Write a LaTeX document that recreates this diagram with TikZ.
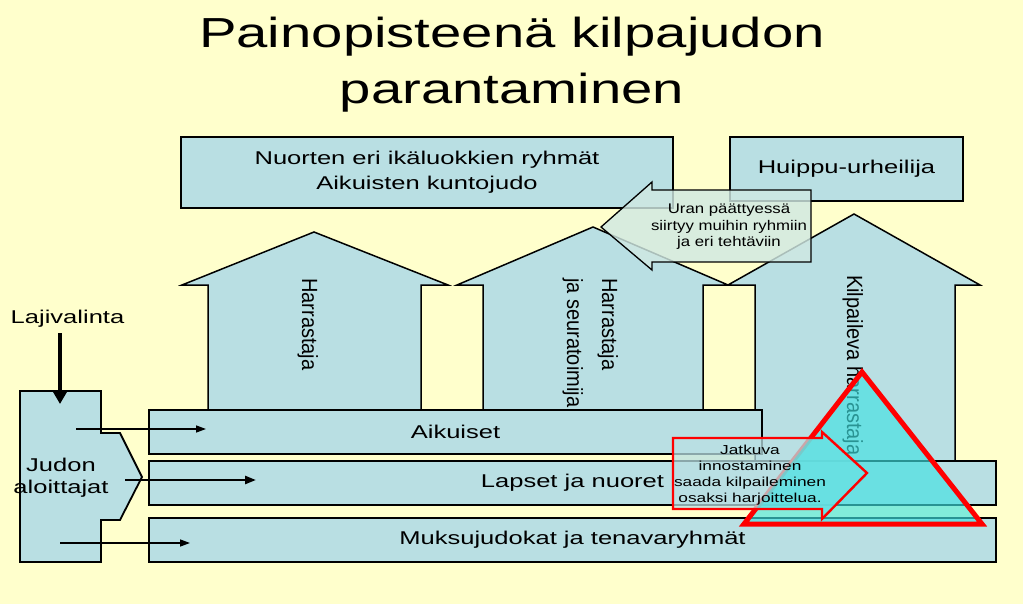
\documentclass[tikz,border=0pt]{standalone}
\usepackage{fontspec}
\setmainfont{Liberation Sans}
\usetikzlibrary{arrows.meta}
\definecolor{bgyellow}{RGB}{255,255,204}
\definecolor{barblue}{RGB}{185,223,227}
\definecolor{uranfill}{RGB}{208,232,226}
\definecolor{tricyan}{RGB}{64,226,226}
\definecolor{trired}{RGB}{255,0,0}
\tikzset{
  box/.style={draw=black, line width=1.5pt, fill=barblue, inner sep=0pt,
    font=\fontsize{18.5}{25}\selectfont\addfontfeature{FakeStretch=1.38}, align=center},
  plaintext/.style={inner sep=0pt, align=center,
    font=\fontsize{18.5}{22}\selectfont\addfontfeature{FakeStretch=1.38}},
  vtext/.style={font=\fontsize{22}{24}\selectfont\addfontfeature{FakeStretch=0.91}, rotate=-90, anchor=base west, inner sep=0pt},
  houseshape/.style={draw=black, line width=1.5pt, fill=barblue},
  thinarrow/.style={line width=1.3pt, -{Triangle[length=10pt,width=7pt]}},
  midarrow/.style={line width=2.4pt, -{Triangle[length=11pt,width=8pt]}},
  thickarrow/.style={line width=4.5pt, -{Triangle[length=12pt,width=13pt]}},
}
\begin{document}
\begin{tikzpicture}[x=1pt, y=-1pt, line join=miter]
\useasboundingbox (0,0) rectangle (1023,604);
\fill[bgyellow] (0,0) rectangle (1023,604);

% title
\node[inner sep=0pt, anchor=base, font=\fontsize{42}{60}\selectfont\addfontfeature{FakeStretch=1.34}] (title1) at (512,48) {Painopisteenä kilpajudon};
\node[inner sep=0pt, anchor=base, font=\fontsize{42}{60}\selectfont\addfontfeature{FakeStretch=1.34}] (title2) at (512,104) {parantaminen};

% top boxes
\node[box, minimum width=492pt, minimum height=71pt] (top) at (427,172.5) {Nuorten eri ikäluokkien ryhmät\\Aikuisten kuntojudo};
\node[box, minimum width=233pt, minimum height=64pt] (huippu) at (846.5,169) {Huippu-urheilija};

% houses
\draw[houseshape] (208,410) -- (208,285) -- (182,285) -- (314,232) -- (448,285) -- (421,285) -- (421,410) -- cycle;
\draw[houseshape] (483,410) -- (483,285) -- (457,285) -- (593,227) -- (728,285) -- (703,285) -- (703,410) -- cycle;
\draw[houseshape] (755,461) -- (755,285) -- (728,285) -- (854,214) -- (980,285) -- (955,285) -- (955,461) -- cycle;

\node[vtext] (h1) at (302,278) {Harrastaja};
\node[vtext] (h2a) at (602,278) {Harrastaja};
\node[vtext] (h2b) at (567,278) {ja seuratoimija};
\node[vtext] (h3) at (847,275) {Kilpaileva harrastaja};

% Uran arrow
\draw[black, line width=1.3pt, fill=uranfill, fill opacity=0.82] (811,190) -- (652,190) -- (652,182) -- (601,227) -- (652,270) -- (652,262) -- (811,262) -- cycle;
\node[inner sep=0pt, align=center, font=\fontsize{14}{16.5}\selectfont\addfontfeature{FakeStretch=1.2}] (uran) at (729,227) {Uran päättyessä\\siirtyy muihin ryhmiin\\ja eri tehtäviin};

% bars
\node[box, minimum width=613pt, minimum height=44pt] (aik) at (455.5,432) {Aikuiset};
\node[box, minimum width=847pt, minimum height=44pt] (lap) at (572.5,483) {Lapset ja nuoret};
\node[box, minimum width=847pt, minimum height=44pt] (muk) at (572.5,540) {Muksujudokat ja tenavaryhmät};

% Judon aloittajat
\draw[houseshape, line width=1.8pt] (20,391) -- (101,391) -- (101,433) -- (120,433) -- (142,477) -- (120,520) -- (101,520) -- (101,562) -- (20,562) -- cycle;
\node[plaintext] (judo) at (61,478) {Judon\\aloittajat};

% Lajivalinta
\node[plaintext] (laji) at (67.5,319) {Lajivalinta};
\coordinate (lajis) at (60,333);
\coordinate (lajie) at (60,404);
\draw[thickarrow] (lajis) -- (lajie);

% small arrows
\coordinate (a1s) at (76,429);  \coordinate (a1e) at (206,429);
\coordinate (a2s) at (125,480); \coordinate (a2e) at (256,480);
\coordinate (a3s) at (60,543);  \coordinate (a3e) at (190,543);
\draw[thinarrow] (a1s) -- (a1e);
\draw[midarrow] (a2s) -- (a2e);
\draw[thinarrow] (a3s) -- (a3e);

% triangle
\def\tripath{(862,372) -- (982,524) -- (744,524) -- cycle}
\def\jatpath{(673,438) -- (822,438) -- (822,432) -- (867,473) -- (822,519) -- (822,509) -- (673,509) -- cycle}
\fill[tricyan, opacity=0.65] \tripath;
\draw[trired, line width=5pt] \tripath;
\fill[barblue, opacity=0.75] \jatpath;
\begin{scope}
  \clip \tripath;
  \fill[tricyan, opacity=0.6] \jatpath;
\end{scope}
\draw[trired, line width=2.4pt] \jatpath;
\node[inner sep=0pt, align=center, font=\fontsize{13}{16}\selectfont\addfontfeature{FakeStretch=1.33}] (jatk) at (750,475) {Jatkuva\\innostaminen\\saada kilpaileminen\\osaksi harjoittelua.};
\end{tikzpicture}
\end{document}
